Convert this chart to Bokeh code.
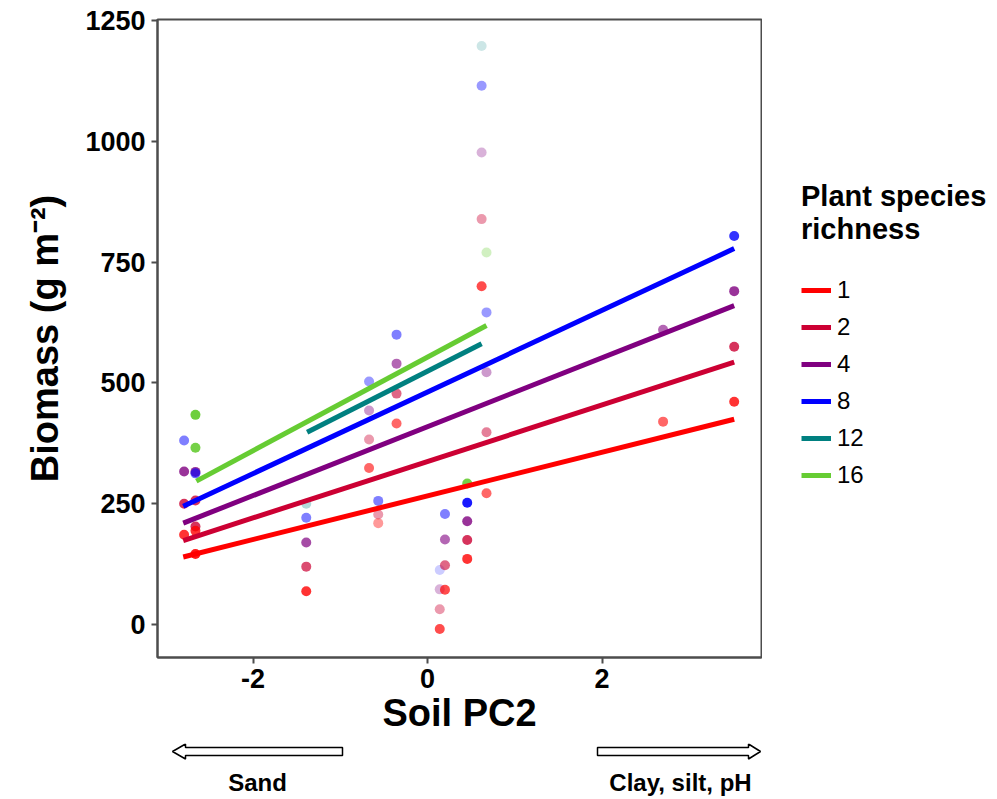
from bokeh.plotting import figure
from bokeh.models import Range1d, Legend, LegendItem, ColumnDataSource, FixedTicker
from bokeh.layouts import column, row
from bokeh.core.properties import value
from bokeh.embed import file_html
from bokeh.resources import INLINE

FONT = "Liberation Sans"

# ---- data ----
richness_levels = ["1", "2", "4", "8", "12", "16"]
richness_colors = ["#FF0000", "#CC0033", "#800080", "#0000FF", "#008080", "#66CC33"]

pt_x = [-2.79, -2.79, -2.79, -2.79,
        -2.66, -2.66, -2.66, -2.66, -2.66, -2.66, -2.66, -2.66,
        -1.39, -1.39, -1.39, -1.39, -1.39,
        -0.67, -0.67, -0.67, -0.67,
        -0.565, -0.565, -0.565,
        -0.355, -0.355, -0.355, -0.355,
        0.14, 0.14, 0.14, 0.14,
        0.20, 0.20, 0.20, 0.20,
        0.455, 0.455, 0.455, 0.455, 0.455,
        0.62, 0.62, 0.62, 0.62, 0.62,
        0.676, 0.676, 0.676, 0.676, 0.676,
        2.70, 2.70,
        3.515, 3.515, 3.515, 3.515]
pt_y = [381, 317, 250, 186,
        434, 366, 316, 313, 257, 203, 194, 146,
        250, 221, 170, 120, 69,
        503, 443, 383, 324,
        256, 228, 210,
        600, 540, 478, 416,
        113, 73, 32, -9,
        229, 176, 123, 72,
        292, 252, 214, 175, 136,
        1197, 1115, 977, 839, 700,
        770, 646, 522, 398, 272,
        610, 420,
        804, 690, 575, 461]
pt_rich = ["8", "4", "2", "1",
           "16", "16", "4", "8", "2", "2", "1", "1",
           "12", "8", "4", "2", "1",
           "8", "4", "2", "1",
           "8", "2", "1",
           "8", "4", "2", "1",
           "8", "4", "2", "1",
           "8", "4", "2", "1",
           "16", "8", "4", "2", "1",
           "12", "8", "4", "2", "1",
           "16", "8", "4", "2", "1",
           "4", "1",
           "8", "4", "2", "1"]
pt_alpha = [0.5, 0.8, 0.8, 0.8,
            0.95, 0.9, 0.8, 0.6, 0.8, 0.8, 0.8, 0.9,
            0.3, 0.5, 0.7, 0.7, 0.8,
            0.4, 0.4, 0.4, 0.6,
            0.5, 0.4, 0.4,
            0.5, 0.6, 0.6, 0.6,
            0.2, 0.3, 0.4, 0.7,
            0.5, 0.6, 0.6, 0.7,
            0.9, 0.9, 0.8, 0.8, 0.8,
            0.2, 0.4, 0.3, 0.4, 0.7,
            0.3, 0.4, 0.4, 0.5, 0.6,
            0.6, 0.6,
            0.8, 0.8, 0.8, 0.8]

# fitted lines per richness level (start / end)
line_x0 = [-2.80, -2.80, -2.80, -2.80, -1.38, -2.65]
line_x1 = [3.515, 3.515, 3.515, 3.515, 0.62, 0.676]
line_y0 = [140, 174, 210, 245, 398, 297]
line_y1 = [425, 543, 660, 778, 581, 619]

x_ticks = [-2, 0, 2]
x_tick_labels = {-2: "-2", 0: "0", 2: "2"}
y_ticks = [0, 250, 500, 750, 1000, 1250]

color_of = dict(zip(richness_levels, richness_colors))
src = ColumnDataSource(dict(x=pt_x, y=pt_y, a=pt_alpha,
                            c=[color_of[r] for r in pt_rich]))

LEFT, RIGHT_EDGE, TOP, BOTTOM_EDGE = 157, 761, 19, 657
PW = RIGHT_EDGE + 1          # width of the plot column
H = 743                      # main figure height
SH = 54                      # arrow strip height
LW = 995 - PW                # legend column width

# ---- main figure ----
p = figure(width=PW, height=H, output_backend="svg", toolbar_location=None,
           x_range=Range1d(-3.095, 3.828), y_range=Range1d(-68, 1252),
           min_border_left=LEFT, min_border_right=PW - RIGHT_EDGE,
           min_border_top=TOP, min_border_bottom=H - BOTTOM_EDGE)
p.xgrid.visible = False
p.ygrid.visible = False
p.outline_line_color = "#4d4d4d"
p.outline_line_width = 2
p.background_fill_color = "white"
p.border_fill_color = "white"

p.scatter("x", "y", source=src, size=10, fill_color="c", fill_alpha="a",
          line_color=None)

for i, lev in enumerate(richness_levels):
    p.line([line_x0[i], line_x1[i]], [line_y0[i], line_y1[i]],
           line_color=richness_colors[i], line_width=5)

for ax in (p.xaxis[0], p.yaxis[0]):
    ax.axis_line_color = "#4d4d4d"
    ax.axis_line_width = 2
    ax.major_tick_line_color = "#4d4d4d"
    ax.major_tick_line_width = 2
    ax.major_tick_out = 6
    ax.major_tick_in = 0
    ax.minor_tick_line_color = None
    ax.major_label_text_font = FONT
    ax.major_label_text_font_style = "bold"
    ax.major_label_text_font_size = "27px"
    ax.major_label_text_color = "black"
    ax.axis_label_text_font = FONT
    ax.axis_label_text_font_style = "bold"
    ax.axis_label_text_font_size = "38px"
    ax.axis_label_text_color = "black"

p.xaxis.ticker = FixedTicker(ticks=x_ticks)
p.xaxis.major_label_overrides = x_tick_labels
p.yaxis.ticker = FixedTicker(ticks=y_ticks)
p.xaxis.axis_label = "Soil PC2"
p.yaxis.axis_label = "Biomass (g m⁻²)"
p.xaxis.major_label_standoff = 5
p.yaxis.major_label_standoff = 6
p.xaxis.axis_label_standoff = 1
p.yaxis.axis_label_standoff = 16

# ---- annotation strip with direction arrows (page-pixel coordinates) ----
q = figure(width=PW, height=SH, output_backend="svg", toolbar_location=None,
           x_range=Range1d(LEFT, RIGHT_EDGE), y_range=Range1d(H + SH, H),
           min_border_left=LEFT, min_border_right=PW - RIGHT_EDGE,
           min_border_top=0, min_border_bottom=0, outline_line_color=None)
q.axis.visible = False
q.grid.visible = False
q.patches(xs=[[172, 185, 185, 342, 342, 185, 185],
              [760, 748, 748, 597, 597, 748, 748]],
          ys=[[751, 743.5, 747, 747, 755, 755, 758.5],
              [751, 743.5, 747, 747, 755, 755, 758.5]],
          fill_color="white", line_color="black", line_width=1.5)
q.text(x=[257, 680], y=[782, 782], text=["Sand", "Clay, silt, pH"],
       text_font=value(FONT), text_font_style="bold", text_font_size="24px",
       text_align="center", text_baseline="middle", text_color="black")

# ---- legend column (legend keys styled like the fitted lines) ----
lg = figure(width=LW, height=H + SH, output_backend="svg", toolbar_location=None,
            x_range=Range1d(0, 1), y_range=Range1d(0, 1), min_border=0,
            outline_line_color=None)
lg.axis.visible = False
lg.grid.visible = False
items = []
for i, lev in enumerate(richness_levels):
    r = lg.line([float("nan")], [float("nan")], line_color=richness_colors[i],
                line_width=5)
    items.append(LegendItem(label=lev, renderers=[r]))

legend = Legend(items=items, location=(39, H + SH - 489),
                title="Plant species\nrichness",
                title_text_font=FONT, title_text_font_style="bold",
                title_text_font_size="29px", title_text_color="black",
                title_standoff=30,
                label_text_font=FONT, label_text_font_size="24px",
                label_text_color="black",
                glyph_width=30, glyph_height=20, label_height=20,
                label_standoff=6, spacing=9, padding=0, margin=0,
                border_line_alpha=0, background_fill_alpha=0)
lg.add_layout(legend, "center")

layout = row(column(p, q, spacing=0), lg, spacing=0)
open("out.html", "w").write(file_html(layout, INLINE))
